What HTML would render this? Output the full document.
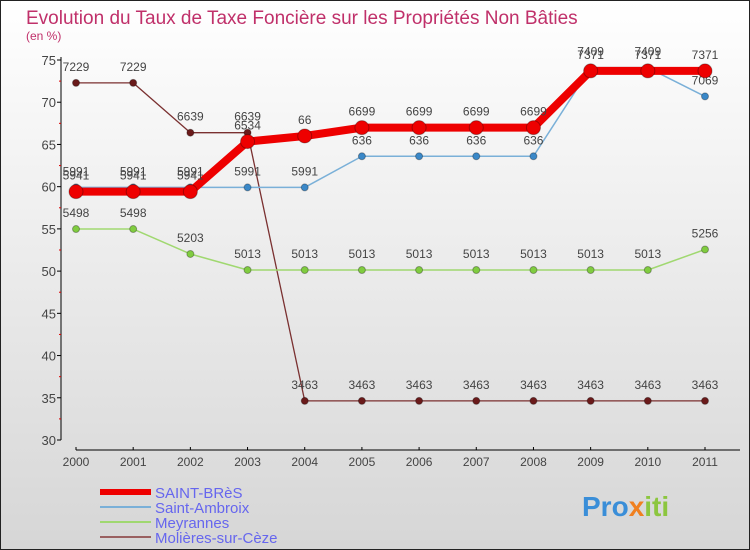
<!DOCTYPE html>
<html><head><meta charset="utf-8"><style>
html,body{margin:0;padding:0}
body{width:750px;height:550px;overflow:hidden;font-family:"Liberation Sans",sans-serif}
svg{display:block}
</style></head><body>
<svg id="chart" width="750" height="550" xmlns="http://www.w3.org/2000/svg">
<defs><linearGradient id="bg" x1="0" y1="0" x2="0" y2="1"><stop offset="0" stop-color="#ffffff"/><stop offset="1" stop-color="#d6d6d6"/></linearGradient></defs>
<rect x="0.5" y="0.5" width="749" height="549" fill="url(#bg)" stroke="#222"/>
<text x="26" y="24" font-size="19" fill="#c0306a">Evolution du Taux de Taxe Foncière sur les Propriétés Non Bâties</text>
<text x="26" y="40" font-size="12" fill="#c0306a">(en %)</text>
<g id="axes"></g><g id="series"></g><g id="legend"></g>
<text x="582" y="516" font-size="28" font-weight="bold" fill="#3a8ed8">Pro<tspan fill="#f08020">x</tspan><tspan fill="#8cc63f">iti</tspan></text>
</svg>
<script>
const years=["2000","2001","2002","2003","2004","2005","2006","2007","2008","2009","2010","2011"];
const yTicks=[30,35,40,45,50,55,60,65,70,75];
const saintBres=[59.41,59.41,59.41,65.34,66,66.99,66.99,66.99,66.99,73.71,73.71,73.71];
const saintAmbroix=[59.91,59.91,59.91,59.91,59.91,63.6,63.6,63.6,63.6,74.09,74.09,70.69];
const meyrannes=[54.98,54.98,52.03,50.13,50.13,50.13,50.13,50.13,50.13,50.13,50.13,52.56];
const molieres=[72.29,72.29,66.39,66.39,34.63,34.63,34.63,34.63,34.63,34.63,34.63,34.63];
const NS="http://www.w3.org/2000/svg";
const X=i=>76+i*(705-76)/11;
const Y=v=>440-(v-30)*(380/45);
function mk(p,t,a){const e=document.createElementNS(NS,t);for(const k in a)e.setAttribute(k,a[k]);p.appendChild(e);return e;}
const ax=document.getElementById('axes');
let l=mk(ax,'line',{x1:61,y1:57,x2:61,y2:440,stroke:'#000'});


l=mk(ax,'line',{x1:76,y1:450,x2:740,y2:450,stroke:'#000'});


yTicks.forEach(v=>{mk(ax,'line',{x1:57,y1:Y(v),x2:61,y2:Y(v),stroke:'#000'});
 if(v<75)mk(ax,'line',{x1:59,y1:Y(v+2.5),x2:61,y2:Y(v+2.5),stroke:'#d00'});
 const t=mk(ax,'text',{x:56,y:Y(v)+5,'text-anchor':'end','font-size':13,fill:'#444'});t.textContent=v;
 
 });
years.forEach((y,i)=>{mk(ax,'line',{x1:X(i),y1:447,x2:X(i),y2:450,stroke:'#000'});
 const t=mk(ax,'text',{x:X(i),y:466,'text-anchor':'middle','font-size':12,fill:'#444'});t.textContent=y;
 
 });
const sg=document.getElementById('series');
function draw(vals,name,col,w,dot,r,lab){
 const g=mk(sg,'g',{});
 
 
 mk(g,'polyline',{points:vals.map((v,i)=>X(i)+','+Y(v)).join(' '),fill:'none',stroke:col,'stroke-width':w,'stroke-linejoin':'round'});
 vals.forEach((v,i)=>{const c=mk(g,'circle',{cx:X(i),cy:Y(v),r:r,fill:dot,stroke:'rgba(0,0,0,0.3)'});
  
  
  const t=mk(g,'text',{x:X(i),y:Y(v)-12,'text-anchor':'middle','font-size':12,fill:'#444'});t.textContent=String(v).replace('.','');
  
  });
}
draw(molieres,'molieres-line','#7a3030',1.3,'#6a1a1a',3.5);
draw(meyrannes,'meyrannes-line','#a0d870',1.5,'#80cc40',3.5);
draw(saintAmbroix,'saint-ambroix-line','#7ab0d8',1.5,'#3a88c8',3.5);
draw(saintBres,'saint-bres-line','#ee0000',8,'#ee0000',7);
const lg=document.getElementById('legend');
[["SAINT-BRèS","#ee0000",6],["Saint-Ambroix","#7ab0d8",2],["Meyrannes","#a0d870",2],["Molières-sur-Cèze","#9a6060",2]].forEach((e,i)=>{
 const y=492+i*15;
 const s=mk(lg,'line',{x1:100,y1:y,x2:151,y2:y,stroke:e[1],'stroke-width':e[2]});
 
 
 const t=mk(lg,'text',{x:155,y:y+6,'font-size':15,fill:'#6666ee'});t.textContent=e[0];
 
 
});
</script>
</body></html>
